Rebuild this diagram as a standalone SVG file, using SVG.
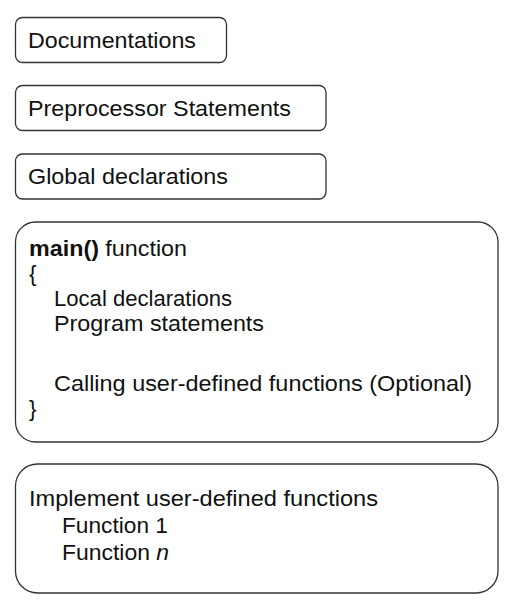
<svg xmlns="http://www.w3.org/2000/svg" width="513" height="603" viewBox="0 0 513 603">
<style>
.box{fill:#fff;stroke:#333;stroke-width:1.3}
.t{font-family:"Liberation Sans",Arial,sans-serif;font-size:22.5px;fill:#111}
.b{font-weight:bold}
</style>
<rect width="513" height="603" fill="#fff"/>
<g id="documentations">
<rect class="box" x="15.5" y="17.5" width="211" height="45" rx="7"/>
<text class="t" x="28" y="47.5" textLength="168" lengthAdjust="spacingAndGlyphs">Documentations</text>
</g>
<g id="preprocessor">
<rect class="box" x="15.5" y="85.5" width="310.5" height="45" rx="7"/>
<text class="t" x="28" y="115.5" textLength="263" lengthAdjust="spacingAndGlyphs">Preprocessor Statements</text>
</g>
<g id="global">
<rect class="box" x="15.5" y="154" width="310.5" height="45" rx="7"/>
<text class="t" x="28" y="184" textLength="200" lengthAdjust="spacingAndGlyphs">Global declarations</text>
</g>
<g id="main">
<rect class="box" x="15.5" y="222" width="482.5" height="220" rx="20"/>
<text class="t" x="29" y="256" textLength="158" lengthAdjust="spacingAndGlyphs"><tspan class="b">main()</tspan> function</text>
<text class="t" x="29" y="281">{</text>
<text class="t" x="54" y="306" textLength="178" lengthAdjust="spacingAndGlyphs">Local declarations</text>
<text class="t" x="54" y="331" textLength="210" lengthAdjust="spacingAndGlyphs">Program statements</text>
<text class="t" x="54" y="391" textLength="418" lengthAdjust="spacingAndGlyphs">Calling user-defined functions (Optional)</text>
<text class="t" x="29" y="416">}</text>
</g>
<g id="implement">
<rect class="box" x="15.5" y="464" width="482.5" height="129" rx="22"/>
<text class="t" x="29" y="506" textLength="349" lengthAdjust="spacingAndGlyphs">Implement user-defined functions</text>
<text class="t" x="62" y="533" textLength="106" lengthAdjust="spacingAndGlyphs">Function 1</text>
<text class="t" x="62" y="560" textLength="107" lengthAdjust="spacingAndGlyphs">Function <tspan font-style="italic">n</tspan></text>
</g>
<g id="connectors"/>
</svg>
